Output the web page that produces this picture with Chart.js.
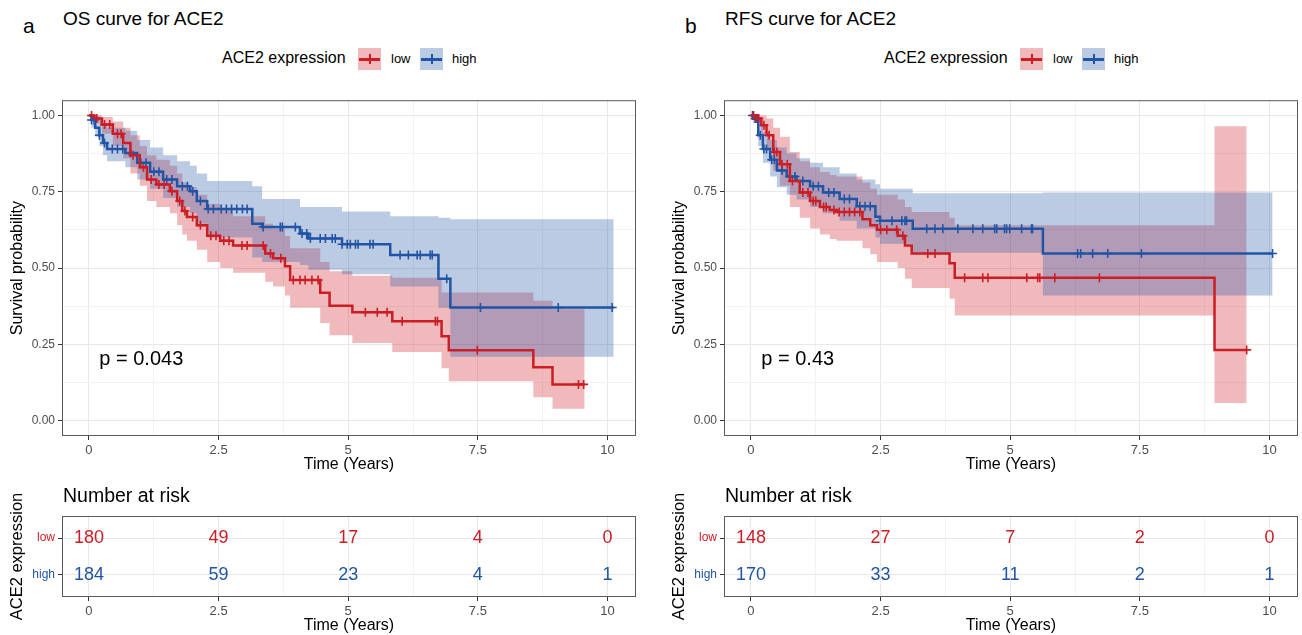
<!DOCTYPE html>
<html>
<head>
<meta charset="utf-8">
<script src="https://cdn.jsdelivr.net/npm/chart.js@4.4.1/dist/chart.umd.min.js"></script>
<style>
  body { margin: 0; background: #fff; width: 1302px; height: 635px; position: relative; overflow: hidden;
         font-family: 'Liberation Sans', Arial, sans-serif; color: #000; }
  .t { position: absolute; white-space: nowrap; line-height: 1; }
  canvas { position: absolute; }
  .sw { position: absolute; width: 23px; height: 22px; }
  .sw .h { position: absolute; left: 1px; right: 1px; top: 9.5px; height: 3px; }
  .sw .v { position: absolute; left: 10.5px; width: 2px; top: 6px; height: 10px; }
</style>
</head>
<body>
<canvas id="osMain" width="645" height="390" style="left:0;top:90px"></canvas>
<canvas id="osRisk" width="645" height="155" style="left:0;top:480px"></canvas>
<canvas id="rfsMain" width="645" height="390" style="left:662px;top:90px"></canvas>
<canvas id="rfsRisk" width="645" height="155" style="left:662px;top:480px"></canvas>
<script>
// ---- OS (overall survival) ----
const osLowTime  = [0, 0.1, 0.25, 0.46, 0.66, 0.8, 0.98, 1.12, 1.3, 1.56, 1.7, 1.8, 1.89, 2.08, 2.28, 2.53, 2.78, 3.4, 3.55, 3.78, 3.88, 4.46, 4.64, 5.08, 5.85, 6.8, 6.94, 8.57, 8.94, 9.56];
const osLowSurv  = [1, 0.99, 0.97, 0.94, 0.91, 0.87, 0.83, 0.79, 0.774, 0.752, 0.72, 0.687, 0.667, 0.64, 0.606, 0.59, 0.574, 0.548, 0.532, 0.506, 0.461, 0.419, 0.377, 0.355, 0.326, 0.277, 0.231, 0.175, 0.119, 0.119];
const osLowUpper = [1, 1, 0.995, 0.98, 0.96, 0.935, 0.9, 0.87, 0.855, 0.835, 0.81, 0.78, 0.765, 0.74, 0.71, 0.69, 0.67, 0.645, 0.63, 0.605, 0.565, 0.52, 0.49, 0.475, 0.468, 0.42, 0.42, 0.393, 0.365, 0.365];
const osLowLower = [1, 0.975, 0.94, 0.9, 0.86, 0.81, 0.77, 0.72, 0.7, 0.68, 0.64, 0.61, 0.59, 0.56, 0.52, 0.5, 0.485, 0.455, 0.44, 0.41, 0.37, 0.32, 0.28, 0.255, 0.225, 0.172, 0.129, 0.077, 0.039, 0.039];
const osLowCensor = [0.05, 0.15, 0.3, 0.4, 0.55, 0.62, 0.85, 1.05, 1.2, 1.35, 1.45, 1.6, 1.75, 1.85, 2.0, 2.15, 2.35, 2.45, 2.6, 2.7, 2.95, 3.05, 3.36, 3.5, 3.7, 3.94, 4.07, 4.17, 4.3, 4.42, 5.33, 5.56, 5.75, 6.04, 6.68, 6.72, 7.49, 9.44, 9.54];

const osHighTime  = [0, 0.05, 0.12, 0.2, 0.27, 0.35, 0.7, 0.93, 1.18, 1.43, 1.7, 1.95, 2.08, 2.28, 3.15, 3.34, 4.07, 4.23, 4.88, 5.81, 6.74, 6.97, 10.12];
const osHighSurv  = [1, 0.985, 0.96, 0.935, 0.91, 0.89, 0.877, 0.845, 0.816, 0.79, 0.768, 0.752, 0.72, 0.694, 0.645, 0.635, 0.613, 0.597, 0.578, 0.543, 0.465, 0.371, 0.371];
const osHighUpper = [1, 1, 1, 0.99, 0.975, 0.96, 0.95, 0.92, 0.895, 0.87, 0.85, 0.835, 0.81, 0.785, 0.768, 0.726, 0.7, 0.7, 0.685, 0.67, 0.665, 0.66, 0.66];
const osHighLower = [1, 0.96, 0.93, 0.9, 0.87, 0.85, 0.83, 0.79, 0.76, 0.73, 0.7, 0.68, 0.645, 0.6, 0.535, 0.52, 0.51, 0.495, 0.48, 0.44, 0.37, 0.21, 0.21];
const osHighCensor = [0.05, 0.1, 0.2, 0.3, 0.45, 0.55, 0.65, 0.8, 1.0, 1.1, 1.25, 1.35, 1.5, 1.6, 1.8, 1.9, 2.0, 2.15, 2.3, 2.4, 2.55, 2.65, 2.75, 2.85, 2.96, 3.05, 3.36, 3.69, 3.73, 3.98, 4.11, 4.2, 4.27, 4.46, 4.56, 4.69, 4.75, 4.88, 4.98, 5.04, 5.14, 5.19, 5.42, 5.48, 6.0, 6.16, 6.33, 6.39, 6.58, 6.62, 6.9, 7.55, 9.05, 10.09];

// ---- RFS (relapse-free survival) ----
const rfsLowTime  = [0, 0.08, 0.2, 0.3, 0.43, 0.56, 0.75, 0.94, 1.14, 1.33, 1.52, 1.65, 2.15, 2.3, 2.43, 2.83, 2.97, 3.1, 3.83, 3.93, 8.94, 9.56];
const rfsLowSurv  = [1, 0.99, 0.968, 0.935, 0.88, 0.84, 0.785, 0.748, 0.72, 0.7, 0.69, 0.684, 0.66, 0.64, 0.626, 0.606, 0.574, 0.548, 0.516, 0.468, 0.232, 0.232];
const rfsLowUpper = [1, 1, 1, 0.99, 0.96, 0.93, 0.88, 0.85, 0.83, 0.815, 0.805, 0.8, 0.78, 0.76, 0.74, 0.725, 0.7, 0.684, 0.665, 0.64, 0.965, 0.965];
const rfsLowLower = [1, 0.975, 0.94, 0.89, 0.82, 0.77, 0.7, 0.665, 0.63, 0.61, 0.595, 0.59, 0.565, 0.545, 0.52, 0.5, 0.465, 0.435, 0.4, 0.345, 0.058, 0.058];
const rfsLowCensor = [0.05, 0.1, 0.15, 0.25, 0.35, 0.45, 0.5, 0.6, 0.7, 0.8, 1.0, 1.1, 1.2, 1.25, 1.4, 1.45, 1.6, 1.7, 1.8, 1.9, 2.0, 2.1, 2.5, 2.62, 2.81, 2.93, 3.41, 3.55, 4.12, 4.47, 4.57, 5.32, 5.53, 5.57, 5.86, 6.72, 9.56];

const rfsHighTime  = [0, 0.04, 0.14, 0.23, 0.37, 0.5, 0.69, 0.88, 1.14, 1.39, 1.71, 2.04, 2.4, 2.49, 3.12, 5.63, 10.06];
const rfsHighSurv  = [1, 0.99, 0.935, 0.89, 0.855, 0.82, 0.8, 0.785, 0.768, 0.748, 0.726, 0.703, 0.668, 0.655, 0.629, 0.548, 0.548];
const rfsHighUpper = [1, 1, 0.975, 0.945, 0.92, 0.895, 0.875, 0.86, 0.845, 0.83, 0.81, 0.79, 0.775, 0.76, 0.745, 0.748, 0.748];
const rfsHighLower = [1, 0.975, 0.9, 0.845, 0.8, 0.765, 0.74, 0.725, 0.7, 0.68, 0.655, 0.63, 0.6, 0.58, 0.55, 0.41, 0.41];
const rfsHighCensor = [0.03, 0.08, 0.12, 0.18, 0.25, 0.3, 0.4, 0.45, 0.6, 0.75, 0.85, 1.0, 1.2, 1.3, 1.5, 1.6, 1.8, 1.9, 2.1, 2.2, 2.3, 2.49, 2.72, 2.91, 2.97, 3.0, 3.39, 3.55, 3.7, 3.99, 4.28, 4.47, 4.7, 4.74, 4.89, 4.93, 4.99, 5.22, 5.41, 5.43, 6.3, 6.36, 6.59, 6.88, 7.53, 10.06];

// ---- number at risk ----
const riskTimes   = [0, 2.5, 5, 7.5, 10];
const osRiskLow   = [180, 49, 17, 4, 0];
const osRiskHigh  = [184, 59, 23, 4, 1];
const rfsRiskLow  = [148, 27, 7, 2, 0];
const rfsRiskHigh = [170, 33, 11, 2, 1];

const xTickValues = [0, 1.25, 2.5, 3.75, 5, 6.25, 7.5, 8.75, 10];
const yTickValues = [0, 0.125, 0.25, 0.375, 0.5, 0.625, 0.75, 0.875, 1];

const RED = 'rgb(204,28,36)', BLUE = 'rgb(33,84,164)';
const RED_BAND = 'rgba(204,28,36,0.3)', BLUE_BAND = 'rgba(33,84,164,0.3)';
const FONT = "'Liberation Sans', Arial, sans-serif";
const NONE = 'rgba(0,0,0,0)';

function pts(xs, ys) { return xs.map((x, i) => ({ x: x, y: ys[i] })); }
function survAt(times, surv, t) {
  let s = surv[0];
  for (let i = 0; i < times.length; i++) if (times[i] <= t) s = surv[i];
  return s;
}
function censorPts(times, surv, cens) { return cens.map(t => ({ x: t, y: survAt(times, surv, t) })); }
const isMajor = (v, step) => Math.abs(v / step - Math.round(v / step)) < 1e-6;

// panel border (theme_bw)
const frame = {
  id: 'frame',
  afterDraw(chart) {
    const a = chart.chartArea, c = chart.ctx;
    c.save();
    c.strokeStyle = '#5a5a5a';
    c.lineWidth = 1;
    c.strokeRect(a.left + 0.5, a.top + 0.5, a.width - 1, a.height - 1);
    c.restore();
  }
};

function xAxis(height, titlePad) {
  return {
    type: 'linear', min: -0.52, max: 10.55,
    afterBuildTicks: s => { s.ticks = xTickValues.map(v => ({ value: v })); },
    afterFit: s => { s.height = height; },
    ticks: { callback: v => isMajor(v, 2.5) ? String(v) : '', color: '#4D4D4D',
             font: { family: FONT, size: 13 }, maxRotation: 0, autoSkip: false, padding: 3 },
    grid: { color: c => isMajor(c.tick.value, 2.5) ? '#E8E8E8' : '#F3F3F3',
            tickColor: c => isMajor(c.tick.value, 2.5) ? '#333' : NONE, tickLength: 4, lineWidth: 1 },
    border: { display: false },
    title: { display: true, text: 'Time (Years)', color: '#000', font: { family: FONT, size: 16 },
             padding: { top: 0, bottom: titlePad } }
  };
}

function kmChart(id, d, pText) {
  const line = (data, color) => ({ data: data, borderColor: color, borderWidth: 2.5, stepped: true,
                                   showLine: true, pointRadius: 0, fill: false });
  const cens = (data, color) => ({ data: data, showLine: false, pointStyle: 'cross', pointRadius: 4.5,
                                   pointBorderColor: color, pointBorderWidth: 1.6, pointBackgroundColor: color });
  const band = (data, fill, bg) => ({ data: data, borderColor: NONE, borderWidth: 0, stepped: true, showLine: true,
                                      pointRadius: 0, fill: fill, backgroundColor: bg });
  const pval = {
    id: 'pval',
    afterDatasetsDraw(chart) {
      const c = chart.ctx, sx = chart.scales.x, sy = chart.scales.y;
      c.save();
      c.font = '20px ' + FONT;
      c.fillStyle = '#000';
      c.textAlign = 'left';
      c.textBaseline = 'middle';
      c.fillText(pText, sx.getPixelForValue(0.2), sy.getPixelForValue(0.2));
      c.restore();
    }
  };
  return new Chart(document.getElementById(id), {
    type: 'scatter',
    data: {
      datasets: [
        line(pts(d.lowT, d.lowS), RED),
        line(pts(d.highT, d.highS), BLUE),
        cens(censorPts(d.lowT, d.lowS, d.lowC), RED),
        cens(censorPts(d.highT, d.highS, d.highC), BLUE),
        band(pts(d.highT, d.highU), false, NONE),
        band(pts(d.highT, d.highL), '-1', BLUE_BAND),
        band(pts(d.lowT, d.lowU), false, NONE),
        band(pts(d.lowT, d.lowL), '-1', RED_BAND)
      ]
    },
    options: {
      responsive: false, animation: false,
      layout: { padding: { top: 5, right: 9, left: 0, bottom: 0 } },
      plugins: { legend: { display: false }, tooltip: { enabled: false } },
      scales: {
        x: xAxis(44, 5.4),
        y: {
          type: 'linear', min: -0.05, max: 1.05,
          afterBuildTicks: s => { s.ticks = yTickValues.map(v => ({ value: v })); },
          afterFit: s => { s.width = 62; },
          ticks: { callback: v => isMajor(v, 0.25) ? v.toFixed(2) : '', color: '#4D4D4D',
                   font: { family: FONT, size: 12 }, padding: 3 },
          grid: { color: c => isMajor(c.tick.value, 0.25) ? '#E8E8E8' : '#F3F3F3',
                  tickColor: c => isMajor(c.tick.value, 0.25) ? '#333' : NONE, tickLength: 4 },
          border: { display: false },
          title: { display: true, text: 'Survival probability', color: '#000', font: { family: FONT, size: 16 },
                   padding: { top: 8.4, bottom: 0 } }
        }
      }
    },
    plugins: [frame, pval]
  });
}

function riskChart(id, low, high) {
  const riskText = {
    id: 'riskText',
    afterDatasetsDraw(chart) {
      const c = chart.ctx;
      c.save();
      c.font = '18px ' + FONT;
      c.textAlign = 'center';
      c.textBaseline = 'middle';
      chart.data.datasets.forEach((ds, di) => {
        c.fillStyle = ds.textColor;
        chart.getDatasetMeta(di).data.forEach((el, i) => c.fillText(String(ds.counts[i]), el.x, el.y));
      });
      c.restore();
    }
  };
  return new Chart(document.getElementById(id), {
    type: 'scatter',
    data: {
      datasets: [
        { data: riskTimes.map(t => ({ x: t, y: 2 })), counts: low, textColor: RED, pointRadius: 0 },
        { data: riskTimes.map(t => ({ x: t, y: 1 })), counts: high, textColor: BLUE, pointRadius: 0 }
      ]
    },
    options: {
      responsive: false, animation: false,
      layout: { padding: { top: 36, right: 9, left: 0, bottom: 0 } },
      plugins: { legend: { display: false }, tooltip: { enabled: false } },
      scales: {
        x: xAxis(38, 0),
        y: {
          type: 'linear', min: 0.4, max: 2.6,
          afterBuildTicks: s => { s.ticks = [{ value: 1 }, { value: 2 }]; },
          afterFit: s => { s.width = 62; },
          ticks: { callback: v => v === 2 ? 'low' : 'high', color: c => c.tick.value === 2 ? RED : BLUE,
                   font: { family: FONT, size: 12 }, padding: 3 },
          grid: { color: '#E8E8E8', tickColor: '#333', tickLength: 4 },
          border: { display: false },
          title: { display: true, text: 'ACE2 expression', color: '#000', font: { family: FONT, size: 16.5 },
                   padding: { top: 8, bottom: 0 } }
        }
      }
    },
    plugins: [frame, riskText]
  });
}

// headings and legends
function text(x, cy, str, size, color) {
  const el = document.createElement('div');
  el.className = 't';
  el.textContent = str;
  el.style.left = x + 'px';
  el.style.top = (cy - size * 0.55) + 'px';
  el.style.fontSize = size + 'px';
  if (color) el.style.color = color;
  document.body.appendChild(el);
}
function swatch(x, top, color, band) {
  const el = document.createElement('div');
  el.className = 'sw';
  el.style.left = x + 'px';
  el.style.top = top + 'px';
  el.style.background = band;
  el.innerHTML = '<div class="h" style="background:' + color + '"></div><div class="v" style="background:' + color + '"></div>';
  document.body.appendChild(el);
}
function headings(dx, letter, title) {
  text(dx + 23, 27, letter, 21);
  text(dx + 63, 19, title, 19);
  text(dx + 222, 59, 'ACE2 expression', 16);
  swatch(dx + 358, 48, RED, RED_BAND);
  text(dx + 391, 59, 'low', 13);
  swatch(dx + 420, 48, BLUE, BLUE_BAND);
  text(dx + 452, 59, 'high', 13);
  text(dx + 63, 497, 'Number at risk', 19.5);
}
headings(0, 'a', 'OS curve for ACE2');
headings(662, 'b', 'RFS curve for ACE2');

kmChart('osMain', { lowT: osLowTime, lowS: osLowSurv, lowU: osLowUpper, lowL: osLowLower, lowC: osLowCensor,
                    highT: osHighTime, highS: osHighSurv, highU: osHighUpper, highL: osHighLower, highC: osHighCensor }, 'p = 0.043');
kmChart('rfsMain', { lowT: rfsLowTime, lowS: rfsLowSurv, lowU: rfsLowUpper, lowL: rfsLowLower, lowC: rfsLowCensor,
                     highT: rfsHighTime, highS: rfsHighSurv, highU: rfsHighUpper, highL: rfsHighLower, highC: rfsHighCensor }, 'p = 0.43');
riskChart('osRisk', osRiskLow, osRiskHigh);
riskChart('rfsRisk', rfsRiskLow, rfsRiskHigh);
</script>
</body>
</html>
